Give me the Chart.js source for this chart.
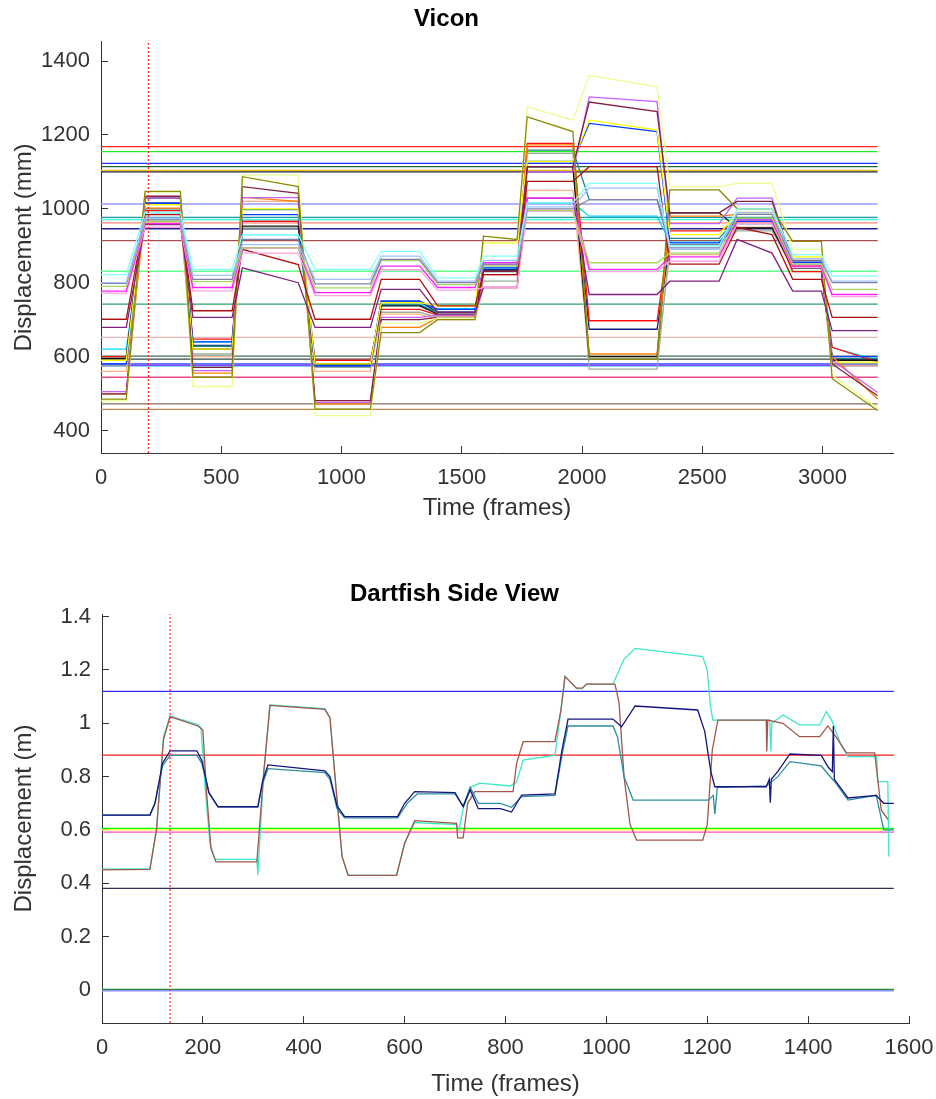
<!DOCTYPE html>
<html lang="en">
<head>
  <meta charset="UTF-8" />
  <title>Vicon vs Dartfish</title>
  <script src="https://cdn.jsdelivr.net/npm/chart.js"></script>
  <style>
    body { margin: 0; background: #fff; }
    #wrap { position: relative; width: 936px; height: 1099px; }
    canvas { position: absolute; left: 0; }
    #vicon { top: 0; }
    #dart { top: 560px; }
  </style>
</head>
<body>
  <div id="wrap">
    <canvas id="vicon" width="936" height="533"></canvas>
    <canvas id="dart" width="936" height="539"></canvas>
  </div>

  <script>
    // ---------- Vicon (mm) ----------
    const viconXRange = [0, 3293];
    const viconYRange = [339, 1452];
    const viconXTicks = [0, 500, 1000, 1500, 2000, 2500, 3000];
    const viconYTicks = [400, 600, 800, 1000, 1200, 1400];
    const viconEnd = 3229;
    const viconMarkFrame = 197;

    // frames where the markers hold still (start, end)
    const viconWindows = [[0, 105], [183, 330], [382, 545], [588, 820], [890, 1120], [1165, 1325], [1400, 1555],
      [1590, 1730], [1772, 1962], [2030, 2312], [2365, 2570], [2645, 2790], [2876, 2995], [3040, 3229]];

    // level held in each window; a pair means it drifts from first to second value
    const vLightCyan = [822, 990, 836, 930, 836, 885, 813, 872, 1016, 1069, 900, 1000, 876, 818];
    const vLightBlue = [800, 975, 820, 903, 809, 872, 804, 860, 1005, 1056, 890, 990, 865, 804];
    const vSlate = [798, 970, 809, 917, 797, 863, 800, 850, 1000, 1025, 894, 985, 859, 800];
    const vYellowGreen = [790, 965, 803, 894, 786, 860, 795, 845, 995, 854, 880, 975, 850, 782];
    const vMagenta = [777, 960, 787, 894, 773, 845, 787, 854, 1029, 836, 870, 970, 845, 768];
    const vPink = [772, 950, 778, 880, 765, 835, 780, 787, 993, 830, 858, 960, 841, 762];
    const vDarkRed = [701, 984, 724, [890, 849], 701, 809, 737, 822, 1074, 1114, 850, [950, 930], 809, 706];
    const vPurple = [679, 957, 706, [840, 800], 679, 782, 720, 787, 1029, 768, 804, [917, 880], 777, 670];
    const vOlive = [485, 1047, 544, [1087, 1060], 458, 665, 700, [926, 917], [1249, 1209], 593, 1051, 1000, 912, [540, 454]];
    const vPaleYellow = [480, 1045, 519, 1092, 440, 690, 705, 910, [1276, 1240], [1361, 1330], 1060, 1069, 890, [550, 460]];
    const vMaroon = [499, 1034, 571, [1060, 1042], 481, 700, 706, 831, 1114, [1289, 1263], 989, 1020, 860, [580, 494]];
    const vViolet = [505, 1029, 562, 1030, 476, 706, 712, 849, 1100, [1303, 1290], 960, 1029, 850, [590, 503]];
    const vYellow = [590, 1011, 620, 1000, 580, 746, 737, 908, 1128, [1240, 1213], 930, 990, 870, 585];
    const vBlue = [580, 1015, 640, 984, 575, 750, 728, 840, 1128, [1231, 1209], 908, 966, 855, 600];
    const vOrange = [499, 1002, 555, [1031, 1020], 472, 679, 706, 849, 1173, 607, 980, 985, 845, [600, 485]];
    const vBlack = [595, 1029, 620, 953, 580, 737, 715, 831, 1114, 600, 989, 948, 840, 590];
    const vRed = [600, 995, 647, 966, 590, 728, 712, 822, 1177, 697, 940, 966, 830, [625, 585]];
    const vGrayGreen = [575, 990, 607, 948, 571, 720, 706, 804, 1150, 566, 902, 940, 845, 580];
    const vTeal = [600, 1000, 628, 998, 580, 740, 720, 830, 1159, 1025, 920, 975, 841, 595];
    const vNavy = [590, 1015, 630, 966, 575, 750, 720, 835, 1114, 674, 903, 960, 840, 590];
    const vCyan = [620, 985, 640, 930, 580, 740, 730, 840, 1016, 980, 910, 970, 859, [625, 590]];
    const vPeach = [560, 966, 600, 1020, 560, 715, 700, 787, 1050, 600, 876, 950, 830, 575];

    // markers that stay put the whole trial
    const viconFlat = [1168, 1155, 1123, 1114, 1104, 1100, 1013, 977, 971, 962, 946, 914, 831, 742, 652, 601, 593, 580, 577, 575, 544, 472, 457];

    // ---------- Dartfish (m) ----------
    const dartXRange = [0, 1600];
    const dartYRange = [-0.124, 1.41];
    const dartXTicks = [0, 200, 400, 600, 800, 1000, 1200, 1400, 1600];
    const dartYTicks = [0, 0.2, 0.4, 0.6, 0.8, 1, 1.2, 1.4];
    const dartEnd = 1570;
    const dartMarkFrame = 135;

    const dTurquoise = [[0, 0.453], [95, 0.455], [108, 0.6], [122, 0.95], [135, 1.027], [190, 0.995], [196, 0.985], [205, 0.75],
      [214, 0.55], [224, 0.49], [307, 0.49], [309, 0.43], [311, 0.5], [320, 0.8], [333, 1.069], [442, 1.055], [452, 1.02],
      [462, 0.8], [476, 0.5], [488, 0.43], [584, 0.43], [600, 0.55], [620, 0.628], [703, 0.62], [708, 0.6], [716, 0.68],
      [730, 0.76], [749, 0.776], [809, 0.765], [822, 0.78], [835, 0.862], [898, 0.88], [910, 1.05], [918, 1.177], [941, 1.13],
      [952, 1.13], [961, 1.147], [1013, 1.147], [1035, 1.24], [1057, 1.281], [1191, 1.25], [1200, 1.2], [1206, 1.07],
      [1211, 1.012], [1324, 1.012], [1326, 0.894], [1328, 1.0], [1350, 1.031], [1383, 0.994], [1423, 0.994], [1436, 1.044],
      [1447, 1.01], [1465, 0.92], [1479, 0.875], [1536, 0.875], [1538, 0.781], [1558, 0.781], [1560, 0.5]];
    const dBrown = [[0, 0.45], [95, 0.452], [108, 0.6], [122, 0.94], [135, 1.025], [190, 0.99], [200, 0.975], [207, 0.75],
      [216, 0.53], [226, 0.48], [307, 0.48], [320, 0.8], [333, 1.067], [442, 1.052], [452, 1.02], [462, 0.8], [476, 0.5],
      [488, 0.43], [584, 0.43], [600, 0.55], [620, 0.635], [703, 0.625], [705, 0.57], [716, 0.57], [725, 0.7], [739, 0.744],
      [815, 0.744], [822, 0.85], [835, 0.931], [898, 0.931], [910, 1.05], [918, 1.175], [941, 1.132], [952, 1.132],
      [961, 1.147], [1017, 1.147], [1025, 1.08], [1035, 0.8], [1047, 0.62], [1060, 0.562], [1191, 0.562], [1200, 0.62],
      [1210, 0.9], [1221, 1.012], [1317, 1.012], [1318, 0.894], [1320, 1.012], [1350, 1.0], [1383, 0.95], [1423, 0.95],
      [1439, 0.99], [1455, 0.95], [1476, 0.889], [1532, 0.889], [1545, 0.675], [1558, 0.64]];
    const dNavy = [[0, 0.656], [95, 0.656], [105, 0.7], [120, 0.85], [135, 0.897], [188, 0.897], [198, 0.86], [212, 0.74],
      [230, 0.687], [309, 0.687], [318, 0.78], [329, 0.844], [442, 0.822], [452, 0.8], [466, 0.69], [481, 0.65], [586, 0.65],
      [600, 0.7], [620, 0.744], [700, 0.74], [716, 0.687], [730, 0.75], [746, 0.68], [790, 0.68], [812, 0.667], [832, 0.731],
      [898, 0.735], [912, 0.9], [924, 1.016], [1013, 1.016], [1030, 0.987], [1057, 1.065], [1181, 1.05], [1195, 0.97],
      [1207, 0.82], [1215, 0.762], [1317, 0.762], [1323, 0.79], [1325, 0.702], [1327, 0.79], [1340, 0.82], [1364, 0.885],
      [1426, 0.88], [1440, 0.835], [1448, 0.819], [1450, 0.99], [1452, 0.79], [1479, 0.72], [1535, 0.73], [1550, 0.7], [1570, 0.7]];
    const dTeal = [[0, 0.656], [95, 0.656], [105, 0.7], [120, 0.84], [135, 0.88], [188, 0.88], [198, 0.85], [212, 0.74],
      [230, 0.687], [309, 0.687], [318, 0.77], [329, 0.83], [442, 0.815], [452, 0.79], [466, 0.68], [481, 0.645], [586, 0.645],
      [605, 0.7], [625, 0.735], [700, 0.735], [716, 0.69], [730, 0.76], [746, 0.7], [790, 0.7], [812, 0.685], [832, 0.725],
      [898, 0.73], [912, 0.88], [924, 0.99], [1013, 0.99], [1022, 0.95], [1035, 0.8], [1053, 0.712], [1202, 0.712],
      [1212, 0.73], [1215, 0.66], [1220, 0.76], [1317, 0.765], [1340, 0.8], [1364, 0.856], [1426, 0.84], [1453, 0.78],
      [1479, 0.712], [1535, 0.73], [1550, 0.6], [1570, 0.6]];

    const dartFlat = [1.12, 0.881, 0.606, 0.6, 0.592, 0.381, 0.002, -0.003];

    // ---------- styling ----------
    const viconFlatColors = ['#FF2020', '#20F020', '#2030FF', '#206830', '#F0C000', '#202030', '#9999FF', '#2098A8',
      '#40FFD8', '#FF8878', '#202090', '#A85050', '#60FF90', '#30A070', '#E0B8B8', '#406858', '#304848', '#3040FF',
      '#8030FF', '#3399FF', '#E84888', '#807060', '#C08848'];
    const viconTraces = [
      [vLightCyan, '#80FFFF'], [vLightBlue, '#A0C0FF'], [vSlate, '#8080A8'], [vYellowGreen, '#A8D860'],
      [vMagenta, '#FF20FF'], [vPink, '#FFA0E0'], [vDarkRed, '#B01010'], [vPurple, '#802080'],
      [vOlive, '#8C8C00'], [vPaleYellow, '#E8FF90'], [vMaroon, '#802040'], [vViolet, '#C860FF'],
      [vYellow, '#FFFF00'], [vBlue, '#0040FF'], [vOrange, '#FF8000'], [vBlack, '#101010'],
      [vRed, '#FF1010'], [vGrayGreen, '#98B098'], [vTeal, '#208888'], [vNavy, '#102080'],
      [vCyan, '#00D8FF'], [vPeach, '#FFB080']
    ];
    const dartFlatColors = ['#3030FF', '#FF1818', '#00FF00', '#FFFF30', '#FF50C8', '#303058', '#208848', '#9090FF'];
    const dartTraces = [[dNavy, '#14147E'], [dTeal, '#2A8FA0'], [dBrown, '#A0574A'], [dTurquoise, '#3CE8C8']];

    Chart.defaults.font.family = '"Liberation Sans", Arial, Helvetica, sans-serif';
    const inkColor = '#333333';

    function windowPoints(vals) {
      const pts = [];
      viconWindows.forEach((w, i) => {
        const v = vals[i];
        const a = Array.isArray(v) ? v[0] : v;
        const b = Array.isArray(v) ? v[1] : v;
        pts.push({ x: w[0], y: a }, { x: w[1], y: b });
      });
      return pts;
    }

    function pairPoints(arr) {
      return arr.map(p => ({ x: p[0], y: p[1] }));
    }

    function flat(level, end) {
      return [{ x: 0, y: level }, { x: end, y: level }];
    }

    function line(data, color, dash) {
      return {
        data: data,
        borderColor: color,
        borderWidth: 1.3,
        borderDash: dash || [],
        pointRadius: 0,
        tension: 0,
        fill: false
      };
    }

    function axis(range, tickValues, padding, titleText, titlePad, fitSize, isX) {
      return {
        type: 'linear',
        bounds: 'data',
        min: range[0],
        max: range[1],
        ticks: {
          autoSkip: false,
          maxRotation: 0,
          padding: padding,
          color: inkColor,
          font: { size: 22 },
          callback: v => String(+v.toFixed(2))
        },
        afterBuildTicks: s => { s.ticks = tickValues.map(v => ({ value: v })); },
        grid: { drawOnChartArea: false, drawTicks: true, tickLength: -7, color: inkColor, lineWidth: 1 },
        border: { display: true, color: inkColor, width: 1 },
        title: { display: true, text: titleText, color: inkColor, font: { size: 24 }, padding: titlePad },
        afterFit: s => {
          if (isX) s.height = fitSize; else s.width = fitSize;
          // keep the plot box where the page layout puts it
          s.paddingLeft = 0; s.paddingRight = 0; s.paddingTop = 0; s.paddingBottom = 0;
        }
      };
    }

    function makeChart(id, datasets, cfg) {
      return new Chart(document.getElementById(id), {
        type: 'line',
        data: { datasets: datasets },
        options: {
          responsive: false,
          animation: false,
          events: [],
          devicePixelRatio: 1,
          layout: { padding: { left: 0, right: cfg.rightPad, top: 0, bottom: 0 } },
          plugins: {
            legend: { display: false },
            tooltip: { enabled: false },
            title: {
              display: true,
              text: cfg.title,
              color: '#000',
              font: { size: 24, weight: 'bold' },
              padding: cfg.titlePad
            }
          },
          scales: {
            x: axis(cfg.xRange, cfg.xTicks, 19, 'Time (frames)', { top: 0, bottom: cfg.xTitleBottom }, cfg.xHeight, true),
            y: axis(cfg.yRange, cfg.yTicks, 18, cfg.yTitle, { top: 10, bottom: 0 }, cfg.yWidth, false)
          }
        }
      });
    }

    // Vicon
    const viconSets = [line([{ x: viconMarkFrame, y: viconYRange[0] }, { x: viconMarkFrame, y: viconYRange[1] }], '#FF3030', [2, 2])];
    viconTraces.forEach(t => viconSets.push(line(windowPoints(t[0]), t[1])));
    viconFlat.forEach((lv, i) => viconSets.push(line(flat(lv, viconEnd), viconFlatColors[i])));

    makeChart('vicon', viconSets, {
      title: 'Vicon',
      titlePad: { top: 5, bottom: 8 },
      rightPad: 43,
      xRange: viconXRange, xTicks: viconXTicks, xHeight: 80, xTitleBottom: 10.5,
      yRange: viconYRange, yTicks: viconYTicks, yWidth: 101,
      yTitle: 'Displacement (mm)'
    });

    // Dartfish
    const dartSets = [line([{ x: dartMarkFrame, y: dartYRange[0] }, { x: dartMarkFrame, y: dartYRange[1] }], '#FF3030', [2, 2])];
    dartTraces.forEach(t => dartSets.push(line(pairPoints(t[0]), t[1])));
    dartFlat.forEach((lv, i) => dartSets.push(line(flat(lv, dartEnd), dartFlatColors[i])));

    makeChart('dart', dartSets, {
      title: 'Dartfish Side View',
      titlePad: { top: 19.6, bottom: 5.6 },
      rightPad: 27,
      xRange: dartXRange, xTicks: dartXTicks, xHeight: 76, xTitleBottom: 0,
      yRange: dartYRange, yTicks: dartYTicks, yWidth: 102,
      yTitle: 'Displacement (m)'
    });
  </script>
</body>
</html>
